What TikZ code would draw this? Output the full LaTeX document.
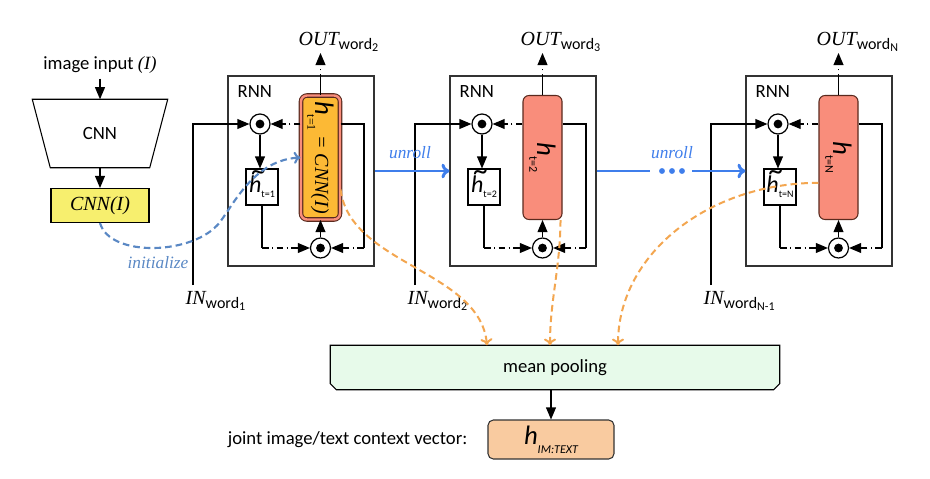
\documentclass[tikz,border=0pt]{standalone}
\usepackage{fontspec}
\setmainfont{Carlito}
\newfontfamily\tnr{Liberation Serif}
\usepackage{tikz}
\usetikzlibrary{arrows,arrows.meta,backgrounds}
\usepgflibrary{shapes}

\definecolor{hred}{HTML}{F98D7B}
\definecolor{hgold}{HTML}{FCB935}
\definecolor{hdark}{HTML}{5A2A1E}
\definecolor{cnnyel}{HTML}{F7EF6E}
\definecolor{poolgreen}{HTML}{E7FAEA}
\definecolor{vecpeach}{HTML}{F9CBA0}
\definecolor{unrollblue}{HTML}{3F7EEB}
\definecolor{initblue}{HTML}{5A88C4}
\definecolor{poolorange}{HTML}{F3A650}

\newcommand{\wsub}[1]{\raisebox{-0.45ex}{\fontsize{12}{12}\selectfont word\raisebox{-0.35ex}{\fontsize{9}{9}\selectfont #1}}}
\newcommand{\OUTw}[1]{{\tnr\itshape\fontsize{15}{16}\selectfont OUT}\wsub{#1}}
\newcommand{\INw}[1]{{\tnr\itshape\fontsize{15}{16}\selectfont IN}\wsub{#1}}
\newcommand{\htil}[1]{{\fontsize{18}{18}\selectfont\ooalign{\itshape h\cr\hidewidth\kern0.25em\raisebox{0.5em}{\fontsize{22}{22}\selectfont\textasciitilde}\hidewidth\cr}}\raisebox{-0.6ex}{\fontsize{7.5}{8}\selectfont t=#1}}

\begin{document}
\begin{tikzpicture}[x=0.75pt,y=-0.75pt,>=triangle 45,line width=1.1pt,
  every node/.style={font=\fontsize{14}{16}\selectfont},
  rnnbox/.style={draw=black!80,line width=0.8pt,minimum width=109.5pt,minimum height=142.5pt,inner sep=0pt},
  mult/.style={circle,draw,fill=white,line width=0.9pt,minimum size=15pt,inner sep=0pt},
  htbox/.style={draw,fill=white,line width=0.8pt,minimum width=24pt,minimum height=27pt,inner sep=0pt},
  hblk/.style={draw=hdark,fill=hred,line width=0.8pt,rounded corners=4.5pt,minimum width=29.25pt,minimum height=93pt,inner sep=0pt},
  hfirst/.style={hblk,fill=hgold,double=hred,double distance=1.8pt},
  dd/.style={dash pattern=on 5pt off 2.5pt on 1pt off 2.5pt},
  orng/.style={draw=poolorange,line width=1.5pt,dash pattern=on 5pt off 3pt,-{To[length=5pt,width=9pt]}},
  unroll/.style={draw=unrollblue,line width=2.2pt},
  unrl/.style={text=unrollblue,font=\tnr\itshape\fontsize{13}{14}\selectfont}]
\useasboundingbox (0,0) rectangle (930,478);

% CNN
\node (img) at (100,65) {image input {\tnr\itshape (I)}};
\node[minimum width=100.5pt,minimum height=50.25pt,inner sep=0pt] (cnn) at (100,133.5) {CNN};
\draw[line width=0.8pt] (cnn.north west) -- (cnn.north east) -- ([xshift=-13.5pt]cnn.south east) -- ([xshift=13.5pt]cnn.south west) -- cycle;
\node[draw,fill=cnnyel,line width=0.8pt,minimum width=73.5pt,minimum height=25.5pt,inner sep=0pt,
  font=\tnr\itshape\fontsize{15}{16}\selectfont] (cnnI) at (100,205.5) {CNN(I)};
\draw[->] (img) -- (cnn);
\draw[->] (cnn) -- (cnnI);

% RNN units
\foreach \d/\k/\hs/\t/\o/\i in {0/1/hfirst/1/2/1,222/2/hblk/2/3/2,518/3/hblk/N/N/N-1}{
  \node[rnnbox] (rnn\k) at (301+\d,171) {};
  \node[anchor=west,inner sep=0pt] (rl\k) at (237+\d,92) {RNN};
  \node[mult] (ct\k) at (260+\d,124) {};
  \fill (ct\k) circle (3.3pt);
  \node[htbox] (ht\k) at (262+\d,187) {\htil{\t}};
  \node[\hs] (h\k) at (320.5+\d,157.5) {};
  \node[mult] (cb\k) at (320.5+\d,248) {};
  \fill (cb\k) circle (3.3pt);
  \coordinate (rc\k) at (364+\d,248);
  \coordinate (lc\k) at (262+\d,248);
  \coordinate (in\k) at (193+\d,285);
  \coordinate (top\k) at (320.5+\d,76);
  \coordinate (out\k) at (320.5+\d,53);
  \draw (h\k.east |- ct\k) -| (rc\k);
  \draw[dd,->] (rc\k) -- (cb\k);
  \draw[dd,->] (h\k.west |- ct\k) -- (ct\k);
  \draw[->] (ct\k) -- (ct\k |- ht\k.north);
  \draw (ht\k) -- (lc\k);
  \draw[dd,->] (lc\k) -- (cb\k);
  \draw[->] (cb\k) -- (h\k);
  \draw (h\k) -- (top\k);
  \draw[dash pattern=on 1.2pt off 3pt,->] (top\k) -- (out\k);
  \node[anchor=west,inner sep=0pt] (outl\k) at (298+\d,42) {\OUTw{\o}};
  \draw[->] (in\k) |- (ct\k);
  \node[anchor=west,inner sep=0pt] (inl\k) at (185+\d,301) {\INw{\i}};
}
\node[rotate=-90] (h1txt) at (h1) {\fontsize{20}{20}\selectfont\itshape h\raisebox{-0.6ex}{\fontsize{9}{9}\selectfont\upshape\tnr t=1}\,{\tnr\fontsize{15}{16}\selectfont = CNN(I)}};
\node[rotate=-90] (h2txt) at (h2) {\fontsize{20}{20}\selectfont\itshape h\raisebox{-0.6ex}{\fontsize{9}{9}\selectfont\upshape t=2}};
\node[rotate=-90] (h3txt) at (h3) {\fontsize{20}{20}\selectfont\itshape h\raisebox{-0.6ex}{\fontsize{9}{9}\selectfont\upshape t=N}};

% unroll
\draw[unroll,-{To[length=6pt,width=11pt]}] (rnn1) -- (rnn2);
\node[unrl] (u1) at (410,153) {unroll};
\coordinate (da) at (650,171);
\coordinate (db) at (692,171);
\draw[unroll] (rnn2) -- (da);
\fill[unrollblue] (662,171) circle (2.2pt) (672,171) circle (2.2pt) (682,171) circle (2.2pt);
\draw[unroll,-{To[length=6pt,width=11pt]}] (db) -- (rnn3);
\node[unrl] (u2) at (672,153) {unroll};

% initialize
\draw[initblue,line width=1.6pt,dash pattern=on 5pt off 3pt,-{To[length=5pt,width=9pt]}] (cnnI.south) .. controls (110,258) and (195,255) .. (220,222) .. controls (235,202) and (255,160) .. (h1.west);
\node[unrl,text=initblue] (init) at (158,263) {initialize};

% pooling
\node[minimum width=336pt,minimum height=32.25pt,inner sep=0pt] (pool) at (555,367.5) {mean pooling};
\begin{scope}[on background layer]
  \filldraw[fill=poolgreen,line width=0.8pt] (pool.north west) -- (pool.north east) -- ([yshift=4.5pt]pool.south east)
    -- ([xshift=-4.5pt]pool.south east) -- ([xshift=4.5pt]pool.south west) -- ([yshift=4.5pt]pool.south west) -- cycle;
\end{scope}
\node[draw=black!80,fill=vecpeach,rounded corners=4pt,line width=0.8pt,minimum width=94.5pt,minimum height=29.25pt,inner sep=0pt] (hvec) at (551,439.5)
  {\fontsize{20}{20}\selectfont\itshape h\raisebox{-0.7ex}{\fontsize{9}{9}\selectfont IM:TEXT}};
\draw[->] (pool.south -| hvec) -- (hvec);
\node[anchor=east,inner sep=0pt] (jlab) at (468,440) {joint image/text context vector:};

\draw[orng] ([yshift=-24pt]h1.east) .. controls (350,265) and (480,270) .. ([xshift=-51pt]pool.north);
\draw[orng] ([xshift=-1.5pt]h2.south east) .. controls (560,270) and (550,300) .. ([xshift=-3.75pt]pool.north);
\draw[orng] ([yshift=-19pt]h3.west) .. controls (707,183) and (618,255) .. ([xshift=47.25pt]pool.north);
\end{tikzpicture}
\end{document}
